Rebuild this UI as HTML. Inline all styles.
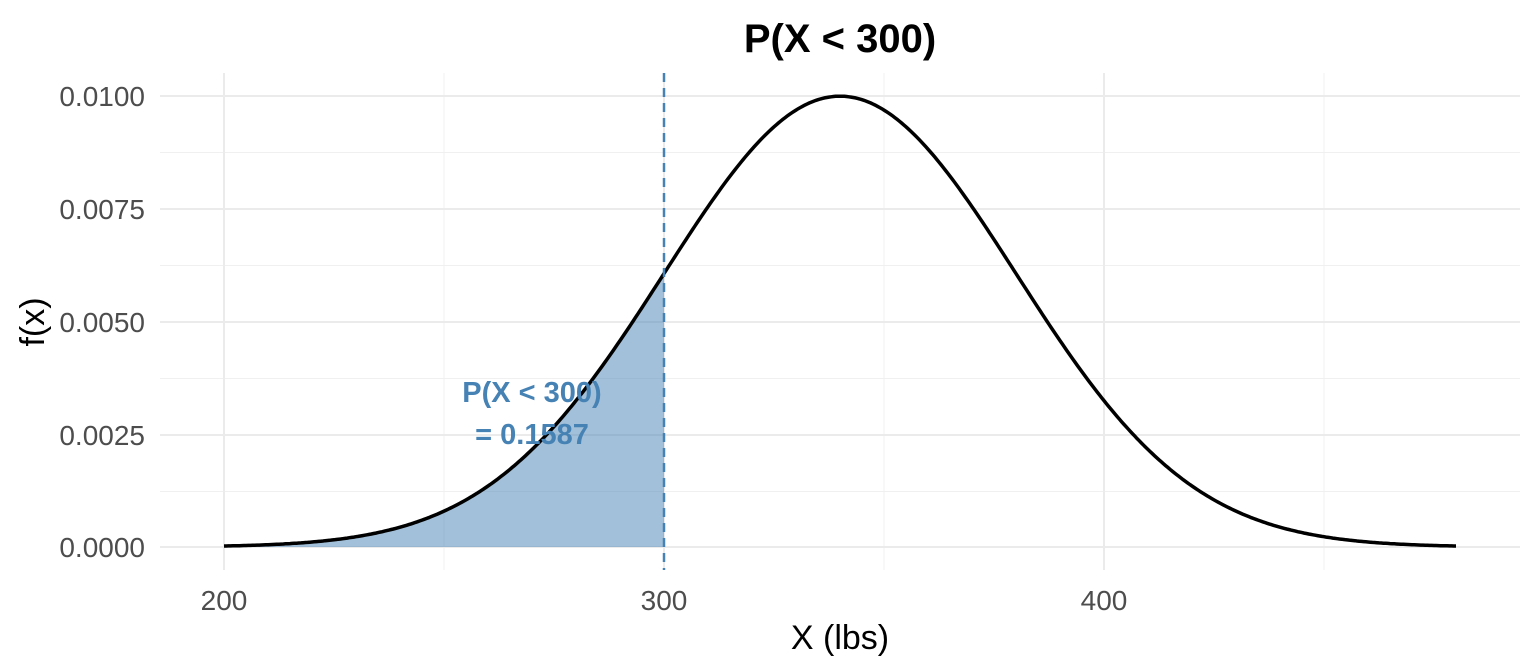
<!DOCTYPE html>
<html><head><meta charset="utf-8"><style>body{margin:0;background:#fff}svg{display:block}text{font-family:"Liberation Sans",sans-serif}</style></head>
<body>
<svg id="s" width="1536" height="672" xmlns="http://www.w3.org/2000/svg">
<g stroke="#f0f0f0" stroke-width="1">
<line x1="444" y1="73" x2="444" y2="570"/><line x1="884" y1="73" x2="884" y2="570"/><line x1="1324" y1="73" x2="1324" y2="570"/>
<line x1="160" y1="491.5" x2="1520" y2="491.5"/><line x1="160" y1="378.5" x2="1520" y2="378.5"/><line x1="160" y1="265.5" x2="1520" y2="265.5"/><line x1="160" y1="152.5" x2="1520" y2="152.5"/>
</g>
<g stroke="#ebebeb" stroke-width="2">
<line x1="224" y1="73" x2="224" y2="570"/><line x1="664" y1="73" x2="664" y2="570"/><line x1="1104" y1="73" x2="1104" y2="570"/>
<line x1="160" y1="547" x2="1520" y2="547"/><line x1="160" y1="435" x2="1520" y2="435"/><line x1="160" y1="322" x2="1520" y2="322"/><line x1="160" y1="209" x2="1520" y2="209"/><line x1="160" y1="96" x2="1520" y2="96"/>
</g>
<path id="fill" fill="#4682B4" fill-opacity="0.5" d=""/>
<path id="curve" fill="none" stroke="#000" stroke-width="3.5" d=""/>
<line x1="664" y1="73" x2="664" y2="570" stroke="#4682B4" stroke-width="2.5" stroke-dasharray="9,6"/>
<g fill="#4682B4" font-weight="bold" font-size="29" text-anchor="middle">
<text x="532" y="402">P(X &lt; 300)</text><text x="532" y="444">= 0.1587</text></g>
<g fill="#4d4d4d" font-size="28" text-anchor="end">
<text x="145" y="557">0.0000</text><text x="145" y="445">0.0025</text><text x="145" y="332">0.0050</text><text x="145" y="219">0.0075</text><text x="145" y="106">0.0100</text></g>
<g fill="#4d4d4d" font-size="28" text-anchor="middle">
<text x="224" y="610">200</text><text x="664" y="610">300</text><text x="1104" y="610">400</text></g>
<text x="840" y="649" font-size="34" text-anchor="middle">X (lbs)</text>
<text transform="translate(44,322) rotate(-90)" font-size="34" text-anchor="middle">f(x)</text>
<text x="840" y="52" font-size="40" font-weight="bold" text-anchor="middle">P(X &lt; 300)</text>
</svg>
<script>
function f(x){return Math.exp(-0.5*((x-340)/40)**2)/(40*Math.sqrt(2*Math.PI));}
function px(x){return 224+(x-200)*4.4;}function py(y){return 547-y*45200;}
var d="",fd="M224,547";
for(var x=200;x<=480;x+=0.5){var p=px(x).toFixed(1)+","+py(f(x)).toFixed(1);d+=(x==200?"M":"L")+p;if(x<=300)fd+="L"+p;}
fd+="L664,547Z";
document.getElementById("curve").setAttribute("d",d);document.getElementById("fill").setAttribute("d",fd);
</script>
</body></html>
